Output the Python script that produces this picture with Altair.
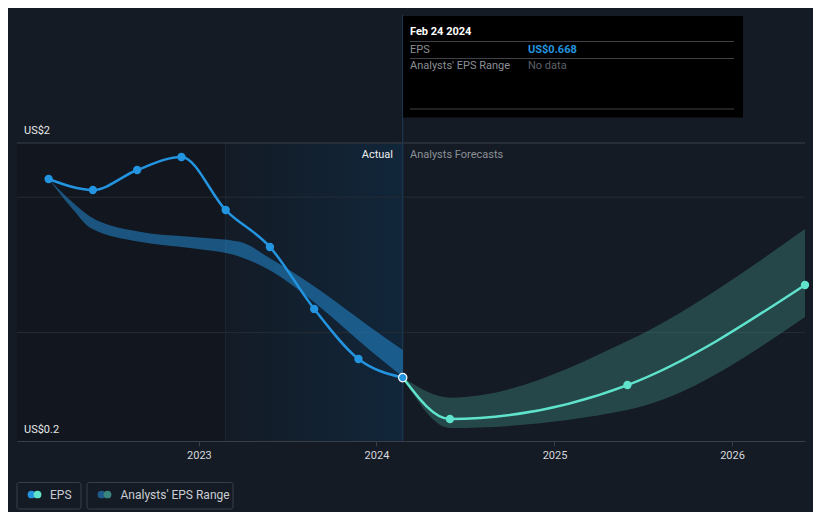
import altair as alt
import pandas as pd

# ---------------- data ----------------
eps_dates = ["2022-02-26", "2022-05-28", "2022-08-27", "2022-11-26", "2023-02-25",
             "2023-05-27", "2023-08-26", "2023-11-25", "2024-02-24"]
eps_values = [2.134, 2.053, 2.201, 2.297, 1.905, 1.632, 1.175, 0.805, 0.668]

fc_dates = ["2024-02-24", "2024-05-31", "2025-05-31", "2026-05-31"]
fc_values = [0.668, 0.362, 0.613, 1.352]
fc_low = [0.668, 0.296, 0.429, 1.115]
fc_high = [0.668, 0.520, 0.938, 1.765]

past_dates = ["2022-02-26", "2022-04-18", "2022-05-23", "2022-09-01", "2022-12-13",
              "2023-03-26", "2023-05-26", "2023-09-06", "2023-12-18", "2024-02-24"]
past_low = [2.134, 1.905, 1.773, 1.671, 1.625, 1.561, 1.462, 1.192, 0.872, 0.675]
past_high = [2.134, 1.957, 1.856, 1.745, 1.708, 1.671, 1.551, 1.315, 1.044, 0.872]

x_ticks = ["2023-01-01", "2024-01-01", "2025-01-01", "2026-01-01"]
grid_values = [1.0, 2.0]
top_value = [2.4]

region_dark = {"start": ["2021-12-23"], "end": ["2023-02-25"]}
region_actual = {"start": ["2023-02-25"], "end": ["2024-02-24"]}

# ---------------- style ----------------
BG = "#151b24"
BLUE = "#2394df"
TEAL = "#5fe3cc"
W, H = 788, 298

eps_df = pd.DataFrame({"date": eps_dates, "eps": eps_values})
fc_df = pd.DataFrame({"date": fc_dates, "eps": fc_values, "low": fc_low, "high": fc_high})
past_df = pd.DataFrame({"date": past_dates, "low": past_low, "high": past_high})
last_df = eps_df.tail(1)

x_scale = alt.Scale(type="utc",
                    domain=[alt.DateTime(year=2021, month=12, date=23, utc=True),
                            alt.DateTime(year=2026, month=5, date=31, utc=True)])
y_scale = alt.Scale(domain=[0.2, 2.4])

x_axis = alt.Axis(
    values=[alt.DateTime(year=int(t[:4]), month=1, date=1, utc=True) for t in x_ticks],
    format="%Y", formatType="utc", grid=False, domainColor="#3a3f47",
    tickColor="#3a3f47", tickSize=5, labelColor="#d5d8dc", labelFontSize=11,
    labelPadding=3, title=None)


def X(field="date"):
    return alt.X(f"{field}:T", scale=x_scale, axis=x_axis, title=None)


def Y(field):
    return alt.Y(f"{field}:Q", scale=y_scale, axis=None)


# background regions
dark_rect = alt.Chart(pd.DataFrame(region_dark)).mark_rect(color="#12161e").encode(
    x=X("start"), x2="end:T", y=alt.value(0), y2=alt.value(H))
actual_rect = alt.Chart(pd.DataFrame(region_actual)).mark_rect(
    color=alt.LinearGradient(
        gradient="linear", x1=0, x2=1, y1=0, y2=0,
        stops=[alt.GradientStop(color="#131b26", offset=0),
               alt.GradientStop(color="#11263a", offset=1)])
).encode(x=X("start"), x2="end:T", y=alt.value(0), y2=alt.value(H))
start_line = alt.Chart(pd.DataFrame(region_actual)).mark_rule(color="#1c2838").encode(
    x=X("start"), y=alt.value(0), y2=alt.value(H))
now_line = alt.Chart(pd.DataFrame(region_actual)).mark_rule(color="#1d3b57").encode(
    x=X("end"), y=alt.value(-128), y2=alt.value(H))

grid = alt.Chart(pd.DataFrame({"v": grid_values})).mark_rule(color="#262c35").encode(
    y=Y("v"), x=alt.value(0), x2=alt.value(W))
top_line = alt.Chart(pd.DataFrame({"v": top_value})).mark_rule(color="#3a3f47").encode(
    y=Y("v"), x=alt.value(0), x2=alt.value(W))

past_band = alt.Chart(past_df).mark_area(interpolate="monotone", color=BLUE, opacity=0.5).encode(
    x=X(), y=Y("low"), y2="high:Q")
fc_band = alt.Chart(fc_df).mark_area(interpolate="monotone", color=TEAL, opacity=0.22).encode(
    x=X(), y=Y("low"), y2="high:Q")

eps_line = alt.Chart(eps_df).mark_line(interpolate="monotone", color=BLUE, strokeWidth=2.5).encode(
    x=X(), y=Y("eps"))
eps_pts = alt.Chart(eps_df).mark_circle(color=BLUE, size=70, opacity=1).encode(x=X(), y=Y("eps"))
fc_line = alt.Chart(fc_df).mark_line(interpolate="monotone", color=TEAL, strokeWidth=2.5).encode(
    x=X(), y=Y("eps"))
fc_pts = alt.Chart(fc_df.iloc[1:]).mark_circle(color=TEAL, size=70, opacity=1).encode(x=X(), y=Y("eps"))
last_pt = alt.Chart(last_df).mark_point(filled=True, fill=BLUE, stroke="white", strokeWidth=1.2,
                                        size=70, opacity=1).encode(x=X(), y=Y("eps"))

one = pd.DataFrame({"a": [0]})


def txt(text, x, y, color, size=12, align="left", weight="normal"):
    return alt.Chart(one).mark_text(text=text, align=align, baseline="middle", color=color,
                                    fontSize=size, fontWeight=weight).encode(
        x=alt.value(x), y=alt.value(y))


def hline(x1, x2, y, color):
    return alt.Chart(one).mark_rule(color=color).encode(
        x=alt.value(x1), x2=alt.value(x2), y=alt.value(y))


labels = [
    txt("Actual", 376, 11.5, "#eceef0", 11, "right"),
    txt("Analysts Forecasts", 393, 11.5, "#8b9097", 11),
    txt("US$2", 7, -12.5, "#e6e8eb", 11),
    txt("US$0.2", 7, 287, "#e6e8eb", 11),
]

# tooltip box
tip_box = alt.Chart(one).mark_rect(color="#000000").encode(
    x=alt.value(386), x2=alt.value(726), y=alt.value(-127), y2=alt.value(-25.5))
tip = [
    tip_box,
    txt("Feb 24 2024", 393, -111.5, "#ffffff", 11, weight="bold"),
    hline(393, 717, -101.5, "#3f4246"),
    txt("EPS", 393, -93.5, "#8b8f95", 11),
    txt("US$0.668", 511, -93.5, BLUE, 11, weight="bold"),
    hline(393, 717, -84.5, "#3f4246"),
    txt("Analysts' EPS Range", 393, -77, "#8b8f95", 11),
    txt("No data", 511, -77, "#5d6167", 11),
    hline(393, 717, -34, "#3f4246"),
]

# legend
def box(x1, x2):
    return alt.Chart(one).mark_rect(fill=BG, fillOpacity=0, stroke="#3a3f47", strokeWidth=1,
                                    cornerRadius=2).encode(
        x=alt.value(x1), x2=alt.value(x2), y=alt.value(339.5), y2=alt.value(366))


def dot(x, color):
    return alt.Chart(one).mark_circle(color=color, size=60, opacity=1).encode(
        x=alt.value(x), y=alt.value(351.5))


legend = [
    box(0, 64), dot(14.5, BLUE), dot(20.5, TEAL), txt("EPS", 33, 352, "#c9cdd2", 12),
    box(70, 216), dot(84.5, "#1f5b8a"), dot(90.5, "#3b8580"),
    txt("Analysts' EPS Range", 103.5, 352, "#c9cdd2", 12),
]

chart = alt.layer(
    dark_rect, actual_rect, start_line, grid, top_line, now_line,
    past_band, fc_band, eps_line, fc_line, eps_pts, fc_pts, last_pt,
    *labels, *tip, *legend
).properties(
    width=W, height=H,
    autosize=alt.AutoSizeParams(type="none"),
    padding={"left": 9, "top": 135, "right": 8, "bottom": 71},
).configure(background=BG, font="Roboto").configure_view(stroke=None)

chart.save("out.html", embed_options={"renderer": "svg", "actions": False})
